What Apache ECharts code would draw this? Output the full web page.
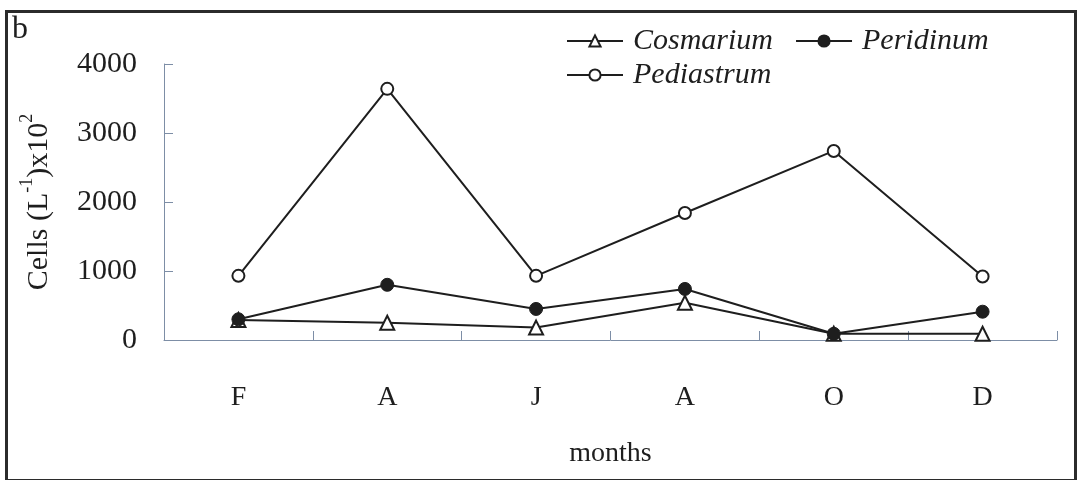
<!DOCTYPE html>
<html>
<head>
<meta charset="utf-8">
<script src="https://cdn.jsdelivr.net/npm/echarts@6/dist/echarts.min.js"></script>
<style>html,body{margin:0;padding:0;background:#fff;}#c{width:1078px;height:480px;}</style>
</head>
<body>
<div id="c"></div>
<script>
const months = ['F', 'A', 'J', 'A', 'O', 'D'];
const cosmarium = [290, 250, 180, 540, 90, 90];
const peridinum = [300, 800, 450, 740, 90, 410];
const pediastrum = [930, 3640, 930, 1840, 2740, 920];
const yTicks = [0, 1000, 2000, 3000, 4000];

const FONT = "'Liberation Serif', 'Times New Roman', serif";
const INK = '#1e1e1e';
const AXIS = '#7d8ea6';

const chart = echarts.init(document.getElementById('c'));
chart.setOption({
  animation: false,
  backgroundColor: '#fff',
  textStyle: { fontFamily: FONT, color: INK },
  grid: { left: 164, right: 21, top: 64, bottom: 140 },
  legend: [
    {
      data: ['Cosmarium', 'Peridinum'],
      left: 566, top: 26, padding: 0,
      itemWidth: 56, itemHeight: 14, itemGap: 22,
      textStyle: { fontFamily: FONT, fontSize: 30, fontStyle: 'italic', color: INK, padding: [0, 0, 0, 5] }
    },
    {
      data: ['Pediastrum'],
      left: 566, top: 60, padding: 0,
      itemWidth: 56, itemHeight: 14, itemGap: 22,
      textStyle: { fontFamily: FONT, fontSize: 30, fontStyle: 'italic', color: INK, padding: [0, 0, 0, 5] }
    }
  ],
  xAxis: {
    type: 'category',
    data: months,
    boundaryGap: true,
    name: 'months',
    nameLocation: 'middle',
    nameGap: 100,
    nameTextStyle: { fontFamily: FONT, fontSize: 28, color: INK },
    axisLine: { lineStyle: { color: AXIS, width: 1 } },
    axisTick: { show: true, inside: true, length: 9, lineStyle: { color: AXIS, width: 1 } },
    axisLabel: { margin: 44, fontFamily: FONT, fontSize: 28, color: INK },
    splitLine: { show: false }
  },
  yAxis: {
    type: 'value',
    min: yTicks[0], max: yTicks[yTicks.length - 1], interval: 1000,
    name: '{t|Cells (L}{s|-1}{t|)x10}{s|2}',
    nameLocation: 'middle',
    nameRotate: 90,
    nameGap: 110,
    nameTextStyle: {
      rich: {
        t: { fontFamily: FONT, fontSize: 30, color: INK, verticalAlign: 'bottom', lineHeight: 36 },
        s: { fontFamily: FONT, fontSize: 18, color: INK, verticalAlign: 'top', lineHeight: 36 }
      }
    },
    axisLine: { show: true, lineStyle: { color: AXIS, width: 1 } },
    axisTick: { show: true, inside: true, length: 9, lineStyle: { color: AXIS } },
    axisLabel: { margin: 27, fontFamily: FONT, fontSize: 30, color: INK, formatter: (v) => String(v) },
    splitLine: { show: false }
  },
  series: [
    {
      name: 'Pediastrum', type: 'line', data: pediastrum,
      symbol: 'circle', symbolSize: 12, showAllSymbol: true,
      lineStyle: { color: INK, width: 2 },
      itemStyle: { color: '#fff', borderColor: INK, borderWidth: 2 },
      z: 2
    },
    {
      name: 'Cosmarium', type: 'line', data: cosmarium,
      symbol: 'triangle', symbolSize: 14, showAllSymbol: true,
      lineStyle: { color: INK, width: 2 },
      itemStyle: { color: '#fff', borderColor: INK, borderWidth: 2 },
      z: 3
    },
    {
      name: 'Peridinum', type: 'line', data: peridinum,
      symbol: 'circle', symbolSize: 13, showAllSymbol: true,
      lineStyle: { color: INK, width: 2 },
      itemStyle: { color: INK, borderColor: INK, borderWidth: 1 },
      z: 4
    }
  ],
  graphic: [
    {
      type: 'rect', left: 4, top: 9, z: 100, silent: true,
      shape: { width: 1069, height: 469 },
      style: { fill: 'none', stroke: '#2b2b2b', lineWidth: 3 }
    },
    {
      type: 'text', left: 12, top: 14, z: 100,
      style: { text: 'b', fontFamily: FONT, fontSize: 32, fill: INK }
    }
  ]
});
</script>
</body>
</html>
